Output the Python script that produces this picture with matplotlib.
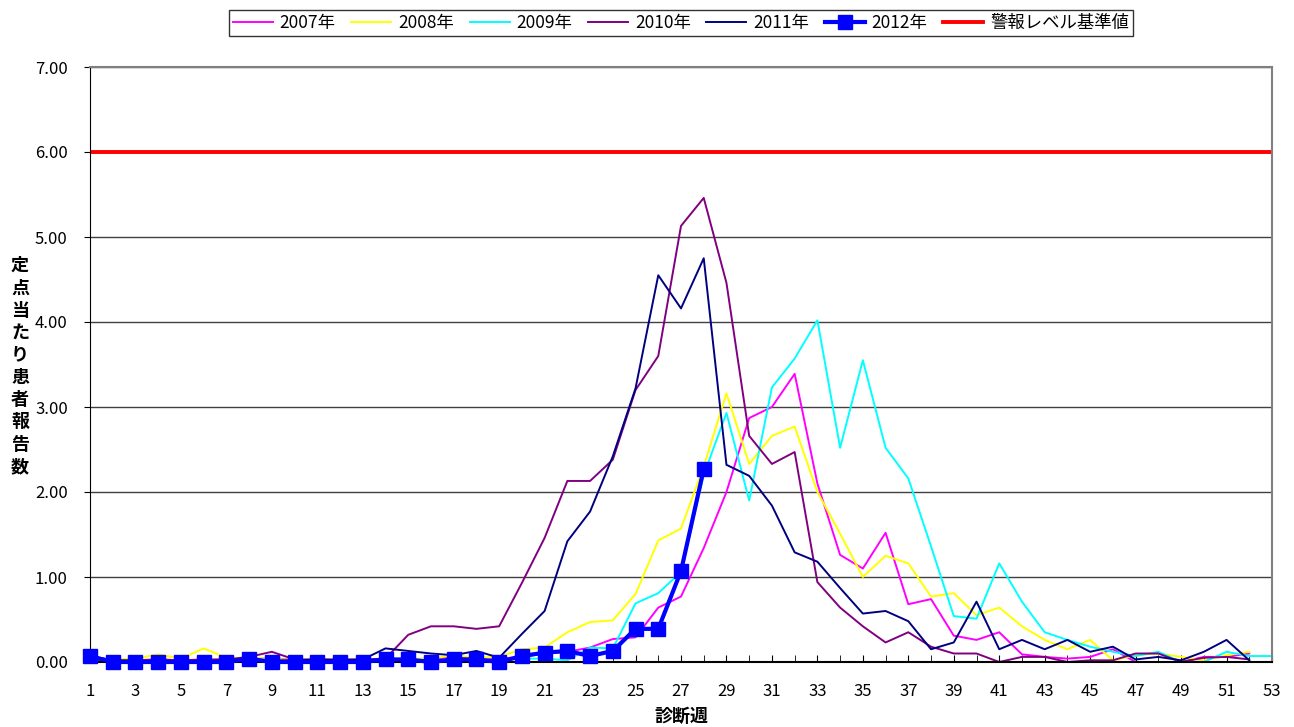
import numpy as np
import matplotlib
matplotlib.use("Agg")
import matplotlib.pyplot as plt

plt.rcParams['font.family'] = ['Noto Sans CJK JP', 'DejaVu Sans']

# weekly values
y2007 = [0.05, 0.03, 0.02, 0.03, 0.02, 0.02, 0.03, 0.03, 0.05, 0.02, 0.02, 0.03, 0.02,
         0.02, 0.03, 0.04, 0.05, 0.05, 0.04, 0.06, 0.10, 0.12, 0.17, 0.27, 0.29, 0.64,
         0.77, 1.34, 2.00, 2.87, 3.00, 3.39, 2.10, 1.26, 1.10, 1.52, 0.68, 0.74, 0.31,
         0.26, 0.35, 0.09, 0.06, 0.04, 0.06, 0.15, 0.00, 0.00, 0.00, 0.06, 0.06, 0.10]
y2008 = [0.05, 0.03, 0.04, 0.09, 0.04, 0.16, 0.05, 0.05, 0.04, 0.02, 0.02, 0.02, 0.03,
         0.03, 0.04, 0.04, 0.08, 0.05, 0.06, 0.15, 0.17, 0.35, 0.47, 0.49, 0.80, 1.43,
         1.57, 2.30, 3.16, 2.33, 2.66, 2.77, 2.00, 1.51, 1.00, 1.25, 1.16, 0.77, 0.81,
         0.55, 0.64, 0.42, 0.26, 0.15, 0.26, 0.02, 0.08, 0.10, 0.06, 0.02, 0.08, 0.12]
y2009 = [0.03, 0.02, 0.02, 0.02, 0.02, 0.02, 0.02, 0.02, 0.02, 0.01, 0.01, 0.01, 0.01,
         0.01, 0.01, 0.02, 0.03, 0.03, 0.02, 0.04, 0.04, 0.02, 0.17, 0.16, 0.69, 0.81,
         1.06, 2.20, 2.93, 1.90, 3.23, 3.57, 4.02, 2.52, 3.55, 2.52, 2.16, 1.36, 0.54,
         0.51, 1.16, 0.71, 0.35, 0.26, 0.18, 0.12, 0.07, 0.12, 0.00, 0.00, 0.12, 0.07, 0.07]
y2010 = [0.03, 0.02, 0.02, 0.03, 0.02, 0.03, 0.03, 0.06, 0.12, 0.03, 0.03, 0.03, 0.03,
         0.04, 0.32, 0.42, 0.42, 0.39, 0.42, 0.93, 1.46, 2.13, 2.13, 2.38, 3.20, 3.60,
         5.13, 5.46, 4.46, 2.66, 2.33, 2.47, 0.94, 0.64, 0.42, 0.23, 0.35, 0.18, 0.10,
         0.10, 0.00, 0.06, 0.06, 0.00, 0.02, 0.02, 0.10, 0.10, 0.00, 0.05, 0.06, 0.03]
y2011 = [0.07, 0.02, 0.01, 0.01, 0.01, 0.01, 0.02, 0.03, 0.02, 0.02, 0.03, 0.02, 0.03,
         0.16, 0.13, 0.10, 0.08, 0.13, 0.05, 0.33, 0.60, 1.42, 1.77, 2.42, 3.22, 4.55,
         4.16, 4.75, 2.32, 2.19, 1.84, 1.29, 1.18, 0.87, 0.57, 0.60, 0.48, 0.15, 0.23,
         0.71, 0.15, 0.26, 0.15, 0.26, 0.12, 0.18, 0.03, 0.06, 0.02, 0.12, 0.26, 0.02]
y2012 = [0.07, 0.00, 0.00, 0.00, 0.00, 0.00, 0.00, 0.04, 0.00, 0.00, 0.00, 0.00, 0.00,
         0.03, 0.03, 0.00, 0.03, 0.03, 0.00, 0.07, 0.11, 0.13, 0.07, 0.13, 0.39, 0.39,
         1.07, 2.27]
alert_level = 6.0

series = [("2007年", y2007, "#FF00FF"),
          ("2008年", y2008, "#FFFF00"),
          ("2009年", y2009, "#00FFFF"),
          ("2010年", y2010, "#800080"),
          ("2011年", y2011, "#000080")]

fig = plt.figure(figsize=(12.94, 7.27), dpi=100)
ax = fig.add_axes([90/1294, 65/727, 1182/1294, 595/727])

for name, vals, col in series:
    wk = np.arange(1, len(vals) + 1)
    ax.plot(wk, vals, color=col, lw=1.4, label=name)

wk12 = np.arange(1, len(y2012) + 1)
ax.plot(wk12, y2012, color="#0000FF", lw=3, marker="s", markersize=10, label="2012年",
        clip_on=False, zorder=5)
ax.axhline(alert_level, color="#FF0000", lw=2.8, label="警報レベル基準値")

ax.set_xlim(1, 53)
ax.set_ylim(0, 7)
ax.set_xticks(np.arange(1, 54, 2))
ax.set_xticks(np.arange(1, 54, 1), minor=True)
ax.set_yticks(np.arange(0, 8, 1))
ax.set_yticklabels(["%.2f" % v for v in np.arange(0, 8, 1)])
ax.tick_params(axis="x", which="both", direction="in", length=5, labelsize=12, pad=15)
ax.tick_params(axis="y", direction="out", length=4, labelsize=12, pad=12)
ax.grid(axis="y", color="#404040", lw=1)
ax.set_axisbelow(True)
for s in ["top", "right"]:
    ax.spines[s].set_color("#808080")
    ax.spines[s].set_linewidth(1.5)
ax.spines["left"].set_color("black")
ax.spines["bottom"].set_color("black")
ax.spines["bottom"].set_linewidth(1.5)

fig.text(20/1294, 1 - 366/727, "\n".join("定点当たり患者報告数"), ha="center", va="center",
         fontsize=13, fontweight="bold", linespacing=1.22)
fig.text(681/1294, 1 - 716/727, "診断週", ha="center", va="center", fontsize=13, fontweight="bold")

leg = fig.legend(loc="center", bbox_to_anchor=(681/1294, 1 - 23/727), ncol=7, fontsize=12.5,
                 frameon=True, fancybox=False, edgecolor="black", handlelength=2.3,
                 handletextpad=0.4, columnspacing=0.9, borderpad=0.25)
leg.get_frame().set_linewidth(1)

fig.savefig("out.png", dpi=100)
